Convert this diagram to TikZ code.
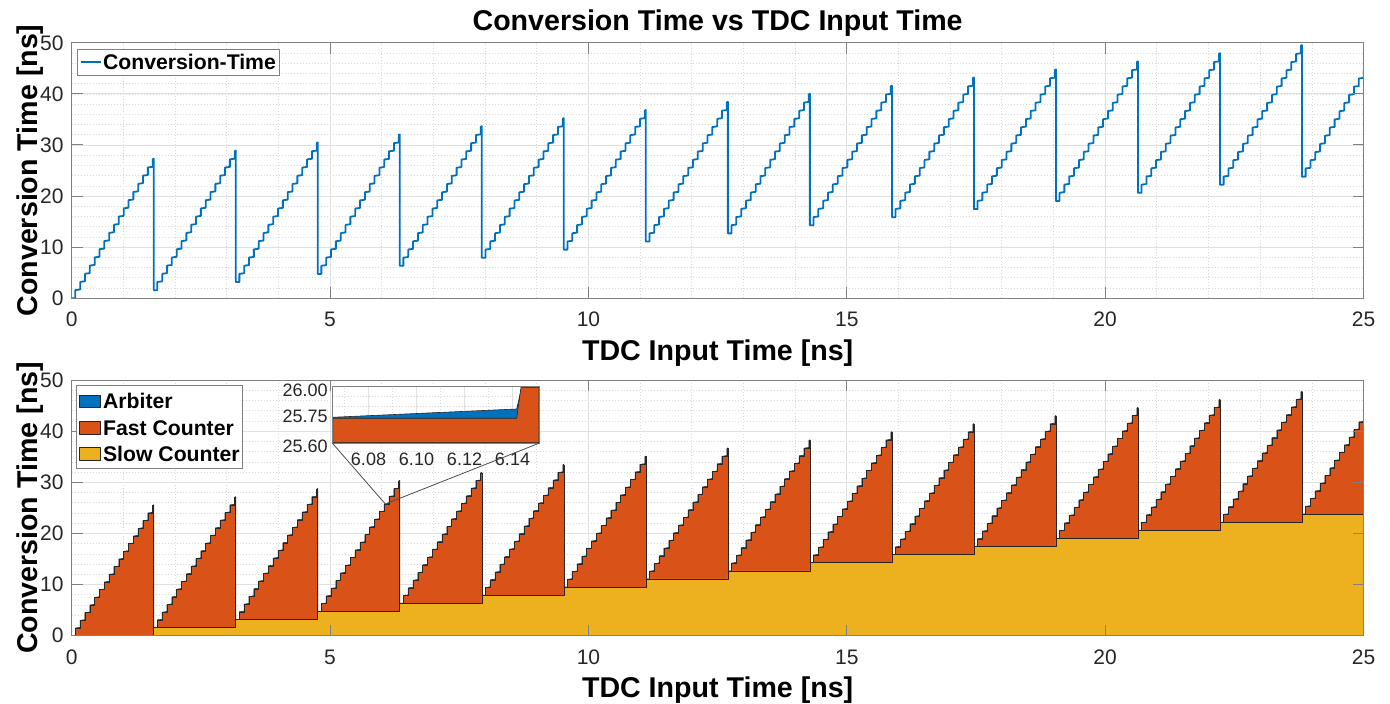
\documentclass[tikz,border=0pt]{standalone}
\usepackage{fontspec}
\setmainfont{Liberation Sans}
\usepackage{xcolor}
\usepackage{tikz}
\usetikzlibrary{positioning,calc}

\definecolor{arbblue}{rgb}{0,0.447,0.741}
\definecolor{fastorange}{rgb}{0.85,0.325,0.098}
\definecolor{slowyellow}{rgb}{0.929,0.694,0.125}
\definecolor{axgray}{rgb}{0.15,0.15,0.15}
\definecolor{boxgray}{rgb}{0.5,0.5,0.5}
\definecolor{gridgray}{rgb}{0.88,0.88,0.88}

% ramp model (ns)
\newcommand{\Tslow}{1.5873}
\newcommand{\Tfast}{0.0936}
\newcommand{\Toff}{0.07}
\newcommand{\Htop}{1.6}
\newcommand{\Hstep}{1.5}
\newcommand{\Harb}{0.13}

\begin{document}
\begin{tikzpicture}[
    x=0.5pt, y=0.5pt,
    plotframe/.style={shift={(71.7,#1)}, xscale=51.672, yscale=5.11},
    axbox/.style={draw=boxgray, line width=0.5pt},
    majorgrid/.style={draw=gridgray, line width=0.4pt},
    minorgrid/.style={draw=gray!30, line width=0.35pt, dash pattern=on 0.5pt off 1pt},
    tickmark/.style={draw=boxgray, line width=0.5pt},
    ticklabel/.style={font=\fontsize{10.5}{12}\selectfont, text=axgray, inner sep=0pt},
    axlabel/.style={font=\fontsize{14.3}{16}\selectfont\bfseries, inner sep=0pt},
    legendbox/.style={draw=boxgray, fill=white, line width=0.5pt},
    legendtext/.style={font=\fontsize{10.6}{12}\selectfont\bfseries, anchor=base west, inner sep=0pt},
    convline/.style={draw=arbblue, line width=0.9pt, line join=round},
    areaedge/.style={draw=black!85, line width=0.3pt, line join=round},
    insetlabel/.style={font=\fontsize{9}{10}\selectfont, text=axgray, inner sep=0pt},
    zoomline/.style={draw=black!70, line width=0.4pt}
]
\useasboundingbox (0,0) rectangle (1390,704);

% title
\node[axlabel, anchor=base] (title) at (717.6,673) {Conversion Time vs TDC Input Time};

% ---------- top panel ----------
\begin{scope}[plotframe=405.7]
  \foreach \x in {1,...,24} \draw[minorgrid] (\x,0) -- (\x,50);
  \foreach \y in {2,4,...,48} \draw[minorgrid] (0,\y) -- (25,\y);
  \foreach \x in {5,10,15,20} \draw[majorgrid] (\x,0) -- (\x,50);
  \foreach \y in {10,20,30,40} \draw[majorgrid] (0,\y) -- (25,\y);
  \begin{scope}
    \clip (0,0) rectangle (25,50);
    \draw[convline] (0,0)
      \foreach \k in {0,...,15}{
        -- ({\k*\Tslow+\Toff},{\k*\Tslow})
        \foreach \j in {0,...,16}{
          -- ({\k*\Tslow+\Toff+\j*\Tfast},{\k*\Tslow+(\j+1)*\Htop})
          -- ({min(\k*\Tslow+\Toff+(\j+1)*\Tfast,(\k+1)*\Tslow)},{\k*\Tslow+(\j+1)*\Htop+\Harb})
        }
        -- ({(\k+1)*\Tslow},{(\k+1)*\Tslow})
      };
  \end{scope}
  \draw[axbox] (0,0) rectangle (25,50);
  \foreach \x in {0,5,...,25}{
    \draw[tickmark] (\x,0) -- (\x,2.15);
    \draw[tickmark] (\x,50) -- (\x,47.85);
    \node[ticklabel, anchor=base, yshift=-14.35pt] (tx\x) at (\x,0) {\x};
  }
  \foreach \y in {0,10,...,50}{
    \draw[tickmark] (0,\y) -- (0.213,\y);
    \draw[tickmark] (25,\y) -- (24.787,\y);
    \node[ticklabel, anchor=base east, xshift=-3.85pt, yshift=-3.65pt] (ty\y) at (0,\y) {\y};
  }
\end{scope}
\node[axlabel, anchor=base] (topxlabel) at (717.6,343.4) {TDC Input Time [ns]};
\node[axlabel, anchor=base, rotate=90] (topylabel) at (37,533.5) {Conversion Time [ns]};

% legend top
\draw[legendbox] (77.3,654.7) rectangle (279.3,628);
\draw[convline] (80.7,641.7) -- (100.7,641.7);
\node[legendtext] (legconv) at (102.7,634) {Conversion-Time};

% ---------- bottom panel ----------
\begin{scope}[plotframe=68.3]
  \foreach \x in {1,...,24} \draw[minorgrid] (\x,0) -- (\x,50);
  \foreach \y in {2,4,...,48} \draw[minorgrid] (0,\y) -- (25,\y);
  \foreach \x in {5,10,15,20} \draw[majorgrid] (\x,0) -- (\x,50);
  \foreach \y in {10,20,30,40} \draw[majorgrid] (0,\y) -- (25,\y);
  \begin{scope}
    \clip (0,0) rectangle (25,50);
    % arbiter (on top of fast counter)
    \filldraw[areaedge, fill=arbblue]
      \foreach \k in {0,...,15}{
        ({\k*\Tslow},{\k*\Tslow}) -- ({\k*\Tslow+\Toff},{\k*\Tslow})
        \foreach \j in {0,...,16}{
          -- ({\k*\Tslow+\Toff+\j*\Tfast},{\k*\Tslow+(\j+1)*\Hstep})
          -- ({min(\k*\Tslow+\Toff+(\j+1)*\Tfast,(\k+1)*\Tslow)},{\k*\Tslow+(\j+1)*\Hstep+\Harb})
        }
        -- ({(\k+1)*\Tslow},{\k*\Tslow}) -- cycle
      };
    % fast counter
    \filldraw[areaedge, fill=fastorange]
      \foreach \k in {0,...,15}{
        ({\k*\Tslow},{\k*\Tslow}) -- ({\k*\Tslow+\Toff},{\k*\Tslow})
        \foreach \j in {0,...,16}{
          -- ({\k*\Tslow+\Toff+\j*\Tfast},{\k*\Tslow+(\j+1)*\Hstep})
          -- ({min(\k*\Tslow+\Toff+(\j+1)*\Tfast,(\k+1)*\Tslow)},{\k*\Tslow+(\j+1)*\Hstep})
        }
        -- ({(\k+1)*\Tslow},{\k*\Tslow}) -- cycle
      };
    % slow counter
    \filldraw[areaedge, fill=slowyellow] (0,0)
      \foreach \k in {0,...,15}{
        -- ({\k*\Tslow},{\k*\Tslow}) -- ({(\k+1)*\Tslow},{\k*\Tslow})
      } -- ({16*\Tslow},0) -- cycle;
  \end{scope}
  \coordinate (zoomspot) at (6.07,25.77);
  \draw[axbox] (0,0) rectangle (25,50);
  \foreach \x in {0,5,...,25}{
    \draw[tickmark] (\x,0) -- (\x,2.15);
    \draw[tickmark] (\x,50) -- (\x,47.85);
    \node[ticklabel, anchor=base, yshift=-14.35pt] (bx\x) at (\x,0) {\x};
  }
  \foreach \y in {0,10,...,50}{
    \draw[tickmark] (0,\y) -- (0.213,\y);
    \draw[tickmark] (25,\y) -- (24.787,\y);
    \node[ticklabel, anchor=base east, xshift=-3.85pt, yshift=-3.65pt] (by\y) at (0,\y) {\y};
  }
\end{scope}
\node[axlabel, anchor=base] (botxlabel) at (717.6,6) {TDC Input Time [ns]};
\node[axlabel, anchor=base, rotate=90] (botylabel) at (37,196) {Conversion Time [ns]};

% legend bottom
\draw[legendbox] (76.7,318) rectangle (242.7,235);
\filldraw[areaedge, fill=arbblue] (79.3,309) rectangle (100.7,296.7);
\filldraw[areaedge, fill=fastorange] (79.3,282.3) rectangle (100.7,270);
\filldraw[areaedge, fill=slowyellow] (79.3,256.3) rectangle (100.7,243.3);
\node[legendtext] (legarb) at (102.7,295.3) {Arbiter};
\node[legendtext] (legfast) at (102.7,268.6) {Fast Counter};
\node[legendtext] (legslow) at (102.7,242.3) {Slow Counter};

% inset (zoom 6.065 - 6.151 ns)
\node[fill=white, inner sep=0pt, minimum width=103.15pt, minimum height=27.7pt] (inset) at (435.85,289) {};
\foreach \x in {344.5,392.5,440.5,488.5,536.5} \draw[minorgrid] (\x,261.3) -- (\x,316.7);
\foreach \x in {368.5,416.5,464.5,512.5} \draw[majorgrid] (\x,261.3) -- (\x,316.7);
\foreach \y in {298,307.5} \draw[minorgrid] (332.7,\y) -- (539,\y);
\filldraw[areaedge, fill=arbblue] (332.7,261.3) -- (332.7,286.7) -- (516.7,295) -- (521.7,316.7)
  -- (539,316.7) -- (539,261.3) -- cycle;
\filldraw[areaedge, fill=fastorange] (332.7,261.3) -- (332.7,285.7) -- (516.7,285.7) -- (521,316.7)
  -- (539,316.7) -- (539,261.3) -- cycle;
\draw[axbox] (inset.south west) rectangle (inset.north east);
\node[insetlabel, anchor=east] (iy1) at (328,313.3) {26.00};
\node[insetlabel, anchor=east] (iy2) at (328,287.3) {25.75};
\node[insetlabel, anchor=east] (iy3) at (328,258) {25.60};
\foreach \x/\lab in {368.5/6.08,416.5/6.10,464.5/6.12,512.5/6.14}
  \node[insetlabel, anchor=base] (ix\lab) at (\x,238.3) {\lab};

% zoom connectors
\draw[zoomline] (inset.south west) -- (zoomspot);
\draw[zoomline] (inset.south east) -- (zoomspot);

\end{tikzpicture}
\end{document}
